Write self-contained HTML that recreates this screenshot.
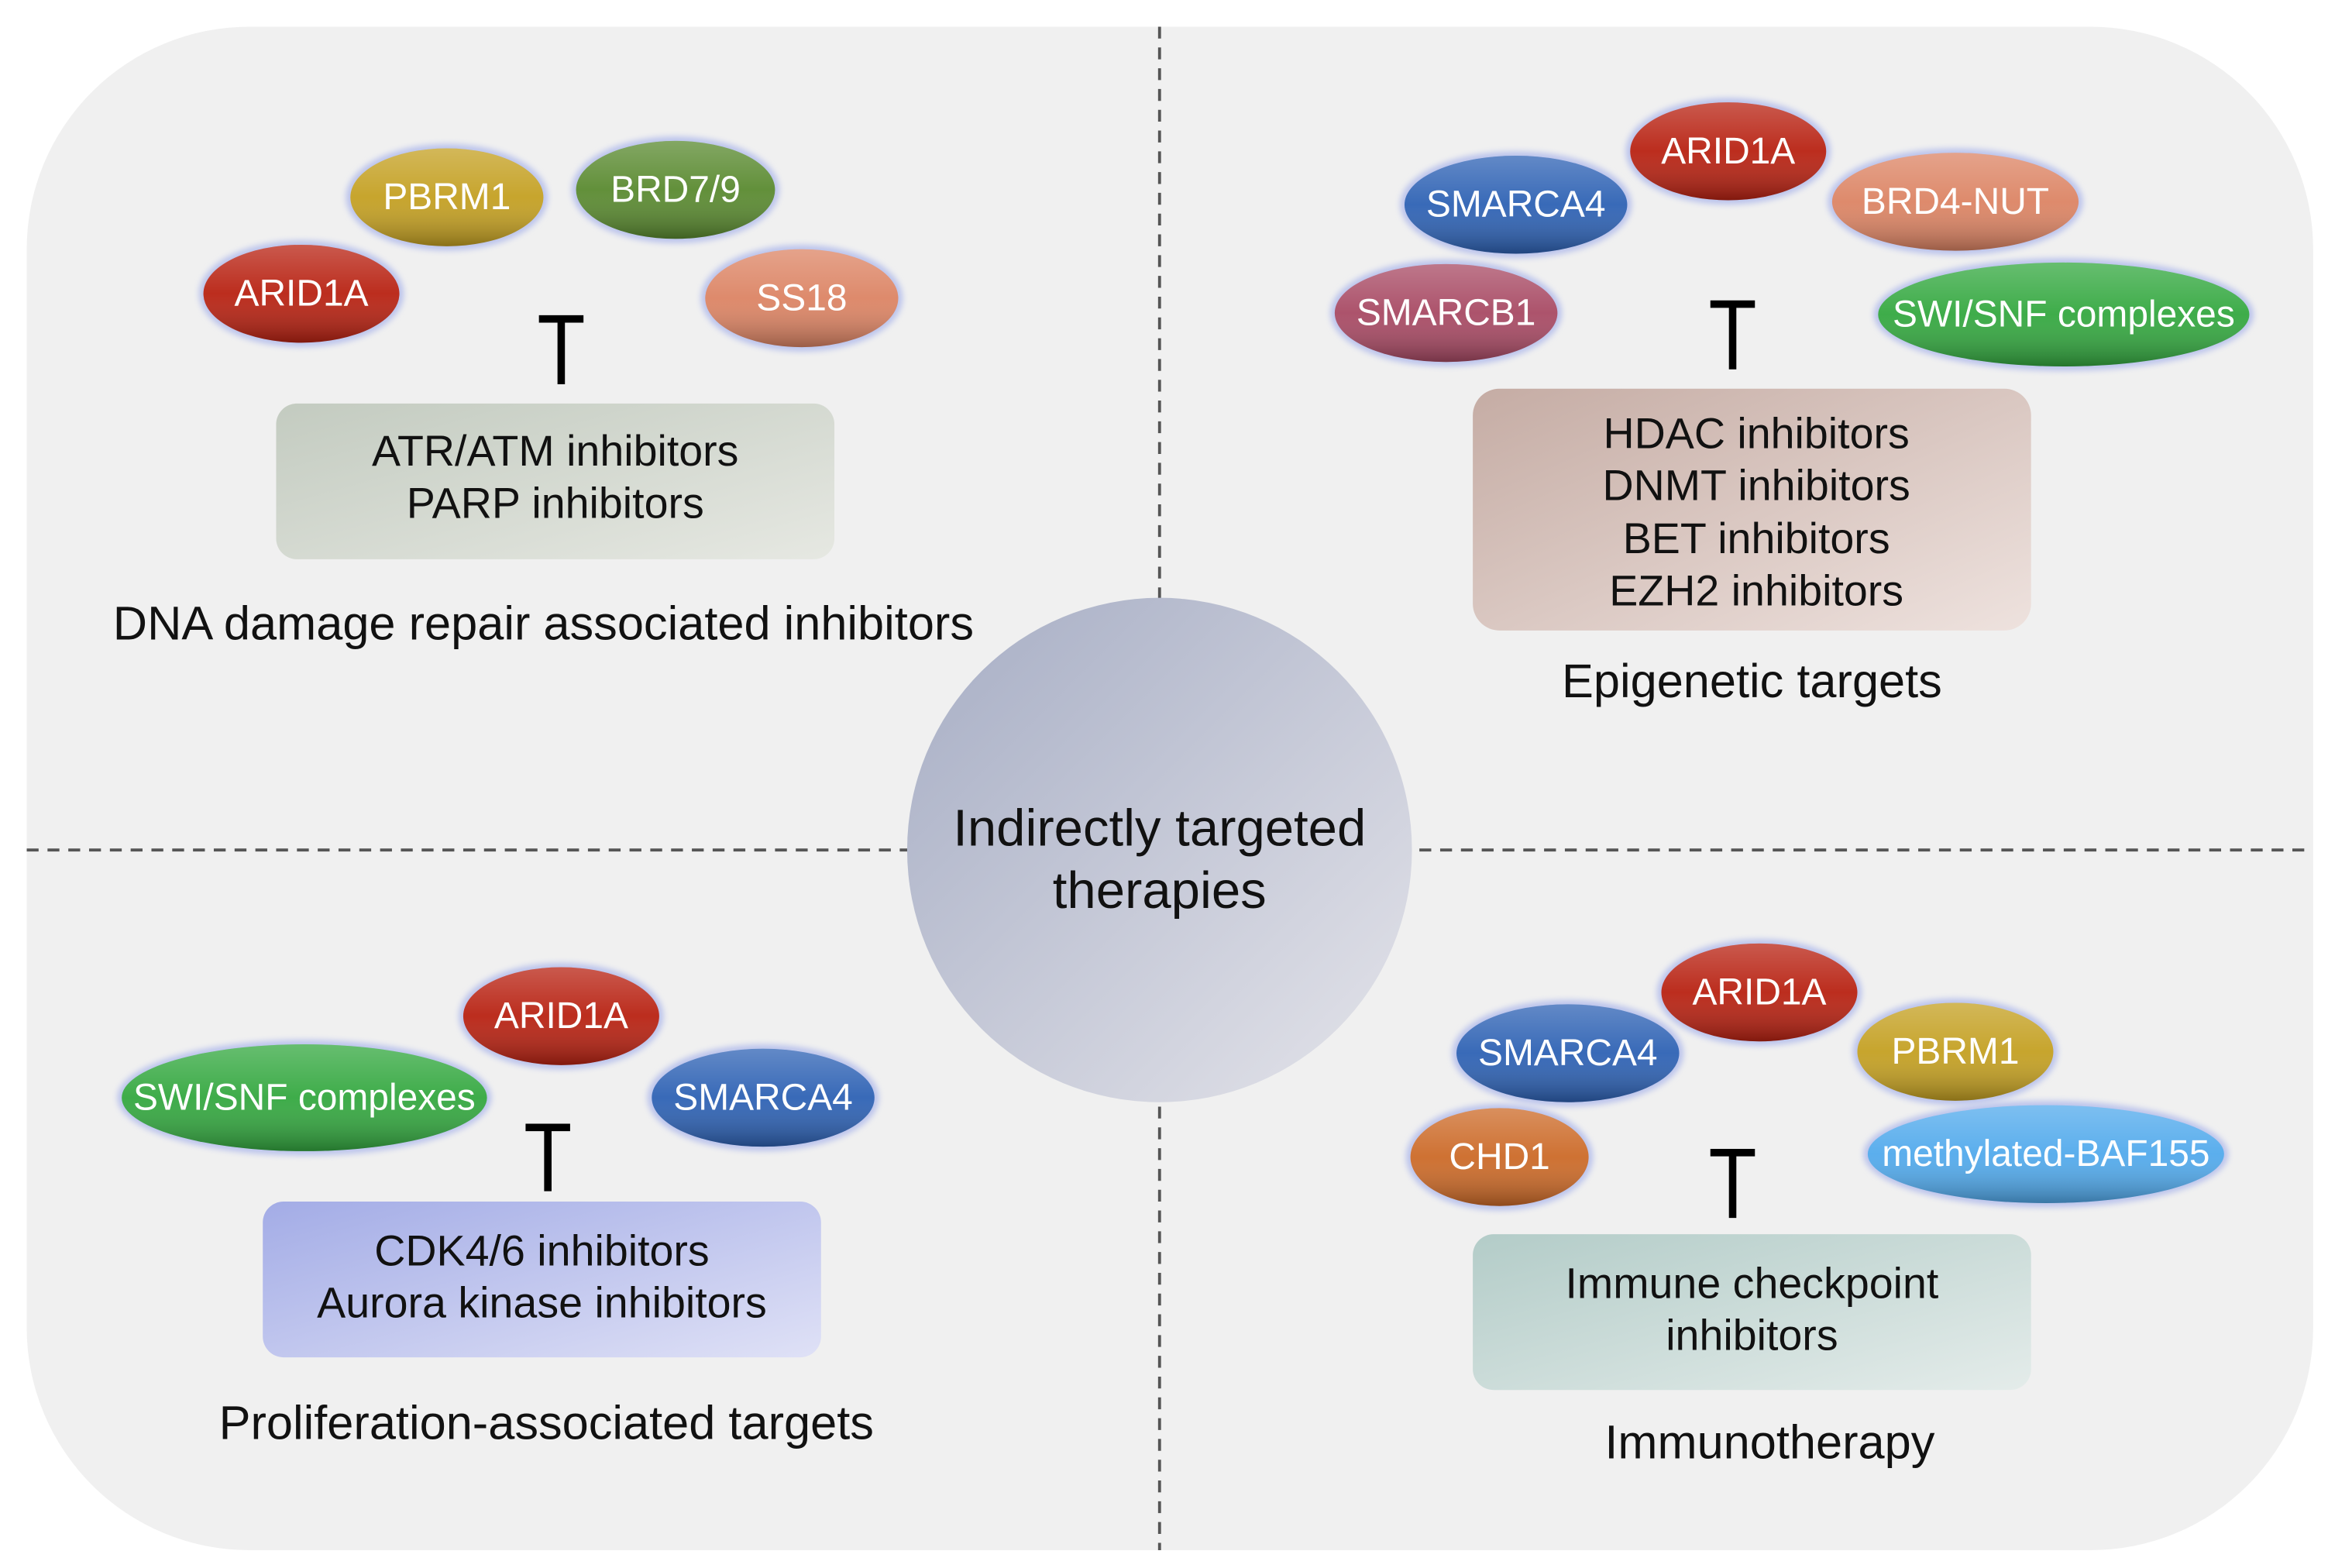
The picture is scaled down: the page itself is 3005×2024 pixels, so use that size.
<!DOCTYPE html>
<html><head><meta charset="utf-8"><style>
html,body{margin:0;padding:0;background:#fff;}
svg{display:block;}
text{font-family:"Liberation Sans",Arial,sans-serif;}
.e{fill:#fff;font-size:25px;text-anchor:middle;dominant-baseline:central;}
.b{fill:#111;font-size:29px;text-anchor:middle;}
.l{fill:#111;font-size:32px;text-anchor:middle;}
</style></head><body>
<svg width="3005" height="2024" viewBox="0 0 1568 1057" preserveAspectRatio="none" xmlns="http://www.w3.org/2000/svg">
<defs>
<linearGradient id="sh" x1="0" y1="0" x2="0" y2="1">
<stop offset="0" stop-color="#fff" stop-opacity="0.25"/><stop offset="0.5" stop-color="#fff" stop-opacity="0.05"/><stop offset="1" stop-color="#000" stop-opacity="0.3"/>
</linearGradient>
<linearGradient id="cg" x1="0" y1="0" x2="1" y2="1">
<stop offset="0" stop-color="#a6adc4"/><stop offset="1" stop-color="#e4e4ea"/>
</linearGradient>
<linearGradient id="g1" x1="0" y1="0" x2="1" y2="1"><stop offset="0" stop-color="#c3cbc0"/><stop offset="1" stop-color="#e6e8e2"/></linearGradient>
<linearGradient id="g2" x1="0" y1="0" x2="1" y2="1"><stop offset="0" stop-color="#c5aca4"/><stop offset="1" stop-color="#eee2de"/></linearGradient>
<linearGradient id="g3" x1="0" y1="0" x2="1" y2="1"><stop offset="0" stop-color="#a3ace6"/><stop offset="1" stop-color="#dfe1f6"/></linearGradient>
<linearGradient id="g4" x1="0" y1="0" x2="1" y2="1"><stop offset="0" stop-color="#b3ccc8"/><stop offset="1" stop-color="#e4ecea"/></linearGradient>
<filter id="gl" x="-20%" y="-30%" width="140%" height="160%"><feGaussianBlur stdDeviation="2"/></filter>
</defs>
<rect x="18" y="18" width="1540" height="1027" rx="150" fill="#f0f0f0"/>
<g stroke="#555" stroke-width="2" stroke-dasharray="8 6">
<line x1="781" y1="18" x2="781" y2="1045"/>
<line x1="18" y1="573" x2="1558" y2="573"/>
</g>
<circle cx="781" cy="573" r="170" fill="url(#cg)"/>
<text x="781" y="570" class="l" style="font-size:35px">Indirectly targeted</text>
<text x="781" y="612" class="l" style="font-size:35px">therapies</text>

<g>
<ellipse cx="301" cy="133" rx="68" ry="36" fill="#bcc4ec" filter="url(#gl)"/><ellipse cx="301" cy="133" rx="65" ry="33" fill="#c4a022"/><ellipse cx="301" cy="133" rx="65" ry="33" fill="url(#sh)"/><text x="301" y="133" class="e">PBRM1</text>
<ellipse cx="455" cy="128" rx="70" ry="36" fill="#bcc4ec" filter="url(#gl)"/><ellipse cx="455" cy="128" rx="67" ry="33" fill="#5a8a30"/><ellipse cx="455" cy="128" rx="67" ry="33" fill="url(#sh)"/><text x="455" y="128" class="e">BRD7/9</text>
<ellipse cx="203" cy="198" rx="69" ry="36" fill="#bcc4ec" filter="url(#gl)"/><ellipse cx="203" cy="198" rx="66" ry="33" fill="#b82212"/><ellipse cx="203" cy="198" rx="66" ry="33" fill="url(#sh)"/><text x="203" y="198" class="e">ARID1A</text>
<ellipse cx="540" cy="201" rx="68" ry="36" fill="#bcc4ec" filter="url(#gl)"/><ellipse cx="540" cy="201" rx="65" ry="33" fill="#dc8464"/><ellipse cx="540" cy="201" rx="65" ry="33" fill="url(#sh)"/><text x="540" y="201" class="e">SS18</text>

<ellipse cx="1164" cy="102" rx="69" ry="36" fill="#bcc4ec" filter="url(#gl)"/><ellipse cx="1164" cy="102" rx="66" ry="33" fill="#b82212"/><ellipse cx="1164" cy="102" rx="66" ry="33" fill="url(#sh)"/><text x="1164" y="102" class="e">ARID1A</text>
<ellipse cx="1021" cy="138" rx="78" ry="36" fill="#bcc4ec" filter="url(#gl)"/><ellipse cx="1021" cy="138" rx="75" ry="33" fill="#2e62b4"/><ellipse cx="1021" cy="138" rx="75" ry="33" fill="url(#sh)"/><text x="1021" y="138" class="e">SMARCA4</text>
<ellipse cx="1317" cy="136" rx="86" ry="36" fill="#bcc4ec" filter="url(#gl)"/><ellipse cx="1317" cy="136" rx="83" ry="33" fill="#dc8464"/><ellipse cx="1317" cy="136" rx="83" ry="33" fill="url(#sh)"/><text x="1317" y="136" class="e">BRD4-NUT</text>
<ellipse cx="974" cy="211" rx="78" ry="36" fill="#bcc4ec" filter="url(#gl)"/><ellipse cx="974" cy="211" rx="75" ry="33" fill="#a84a64"/><ellipse cx="974" cy="211" rx="75" ry="33" fill="url(#sh)"/><text x="974" y="211" class="e">SMARCB1</text>
<ellipse cx="1390" cy="212" rx="128" ry="38" fill="#bcc4ec" filter="url(#gl)"/><ellipse cx="1390" cy="212" rx="125" ry="35" fill="#34a840"/><ellipse cx="1390" cy="212" rx="125" ry="35" fill="url(#sh)"/><text x="1390" y="212" class="e">SWI/SNF complexes</text>

<ellipse cx="378" cy="685" rx="69" ry="36" fill="#bcc4ec" filter="url(#gl)"/><ellipse cx="378" cy="685" rx="66" ry="33" fill="#b82212"/><ellipse cx="378" cy="685" rx="66" ry="33" fill="url(#sh)"/><text x="378" y="685" class="e">ARID1A</text>
<ellipse cx="205" cy="740" rx="126" ry="39" fill="#bcc4ec" filter="url(#gl)"/><ellipse cx="205" cy="740" rx="123" ry="36" fill="#34a840"/><ellipse cx="205" cy="740" rx="123" ry="36" fill="url(#sh)"/><text x="205" y="740" class="e">SWI/SNF complexes</text>
<ellipse cx="514" cy="740" rx="78" ry="36" fill="#bcc4ec" filter="url(#gl)"/><ellipse cx="514" cy="740" rx="75" ry="33" fill="#2e62b4"/><ellipse cx="514" cy="740" rx="75" ry="33" fill="url(#sh)"/><text x="514" y="740" class="e">SMARCA4</text>

<ellipse cx="1185" cy="669" rx="69" ry="36" fill="#bcc4ec" filter="url(#gl)"/><ellipse cx="1185" cy="669" rx="66" ry="33" fill="#b82212"/><ellipse cx="1185" cy="669" rx="66" ry="33" fill="url(#sh)"/><text x="1185" y="669" class="e">ARID1A</text>
<ellipse cx="1056" cy="710" rx="78" ry="36" fill="#bcc4ec" filter="url(#gl)"/><ellipse cx="1056" cy="710" rx="75" ry="33" fill="#2e62b4"/><ellipse cx="1056" cy="710" rx="75" ry="33" fill="url(#sh)"/><text x="1056" y="710" class="e">SMARCA4</text>
<ellipse cx="1317" cy="709" rx="69" ry="36" fill="#bcc4ec" filter="url(#gl)"/><ellipse cx="1317" cy="709" rx="66" ry="33" fill="#c4a022"/><ellipse cx="1317" cy="709" rx="66" ry="33" fill="url(#sh)"/><text x="1317" y="709" class="e">PBRM1</text>
<ellipse cx="1010" cy="780" rx="63" ry="36" fill="#bcc4ec" filter="url(#gl)"/><ellipse cx="1010" cy="780" rx="60" ry="33" fill="#cc6a28"/><ellipse cx="1010" cy="780" rx="60" ry="33" fill="url(#sh)"/><text x="1010" y="780" class="e">CHD1</text>
<ellipse cx="1378" cy="778" rx="123" ry="36" fill="#bcc4ec" filter="url(#gl)"/><ellipse cx="1378" cy="778" rx="120" ry="33" fill="#52aaec"/><ellipse cx="1378" cy="778" rx="120" ry="33" fill="url(#sh)"/><text x="1378" y="778" class="e">methylated-BAF155</text>
</g>

<g stroke="#000" stroke-width="5" fill="none">
<path d="M363 215H393M378 215V259"/>
<path d="M1152 205H1182M1167 205V249"/>
<path d="M354 760H384M369 760V803"/>
<path d="M1152 777H1182M1167 777V821"/>
</g>

<rect x="186" y="272" width="376" height="105" rx="14" fill="url(#g1)"/>
<text x="374" y="314" class="b">ATR/ATM inhibitors</text>
<text x="374" y="349" class="b">PARP inhibitors</text>
<text x="366" y="431" class="l">DNA damage repair associated inhibitors</text>

<rect x="992" y="262" width="376" height="163" rx="18" fill="url(#g2)"/>
<text x="1183" y="302" class="b">HDAC inhibitors</text>
<text x="1183" y="337" class="b">DNMT inhibitors</text>
<text x="1183" y="373" class="b">BET inhibitors</text>
<text x="1183" y="408" class="b">EZH2 inhibitors</text>
<text x="1180" y="470" class="l">Epigenetic targets</text>

<rect x="177" y="810" width="376" height="105" rx="14" fill="url(#g3)"/>
<text x="365" y="853" class="b">CDK4/6 inhibitors</text>
<text x="365" y="888" class="b">Aurora kinase inhibitors</text>
<text x="368" y="970" class="l">Proliferation-associated targets</text>

<rect x="992" y="832" width="376" height="105" rx="14" fill="url(#g4)"/>
<text x="1180" y="875" class="b">Immune checkpoint</text>
<text x="1180" y="910" class="b">inhibitors</text>
<text x="1192" y="983" class="l">Immunotherapy</text>
</svg>
</body></html>
